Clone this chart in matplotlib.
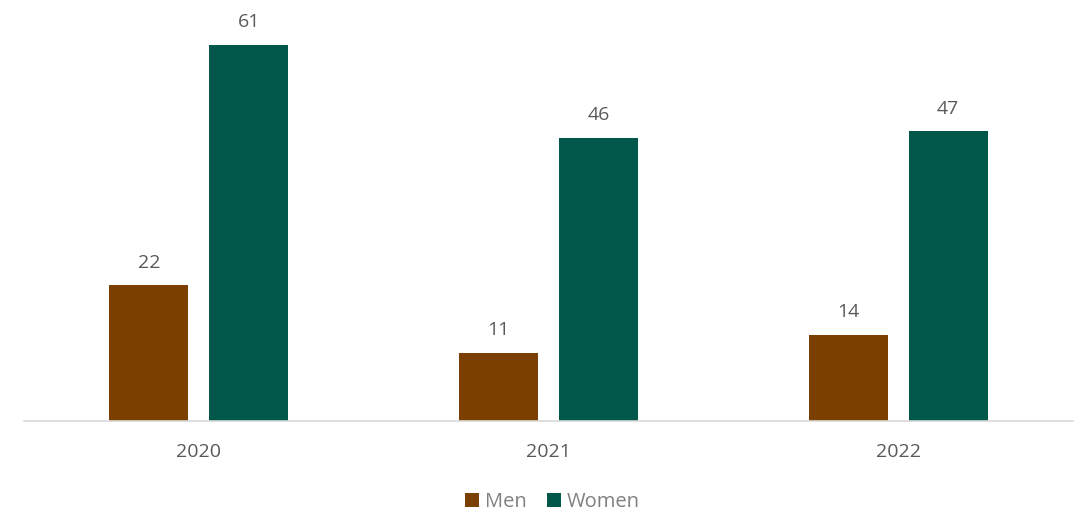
import matplotlib.pyplot as plt
import numpy as np

years = ['2020', '2021', '2022']
men = [22, 11, 14]
women = [61, 46, 47]

plt.rcParams['font.family'] = ['Open Sans', 'DejaVu Sans']

fig = plt.figure(figsize=(10.87, 5.22), dpi=100)
ax = fig.add_axes([24 / 1087, 1 - 421 / 522, 1049 / 1087, 419 / 522])

x = np.arange(len(years))
w = 0.226
b1 = ax.bar(x - 0.143, men, w, color='#7B3F00', label='Men')
b2 = ax.bar(x + 0.143, women, w, color='#00574A', label='Women')

for bars in (b1, b2):
    ax.bar_label(bars, padding=10, fontsize=14, color='#595959')

ax.set_xlim(-0.5, 2.5)
ax.set_ylim(0, 68)
ax.set_xticks(x)
ax.set_xticklabels(years, fontsize=14, color='#595959')
ax.tick_params(axis='x', length=0, pad=16)
ax.set_yticks([])
for s in ['top', 'right', 'left']:
    ax.spines[s].set_visible(False)
ax.spines['bottom'].set_color('#d9d9d9')
ax.spines['bottom'].set_linewidth(1.2)

fig.legend(loc='center', bbox_to_anchor=(0.508, 1 - 502 / 522), ncol=2, frameon=False,
           fontsize=14.5, labelcolor='#808080', handlelength=0.7, handleheight=0.7,
           handletextpad=0.3, columnspacing=1.0)

plt.savefig('out.png')
